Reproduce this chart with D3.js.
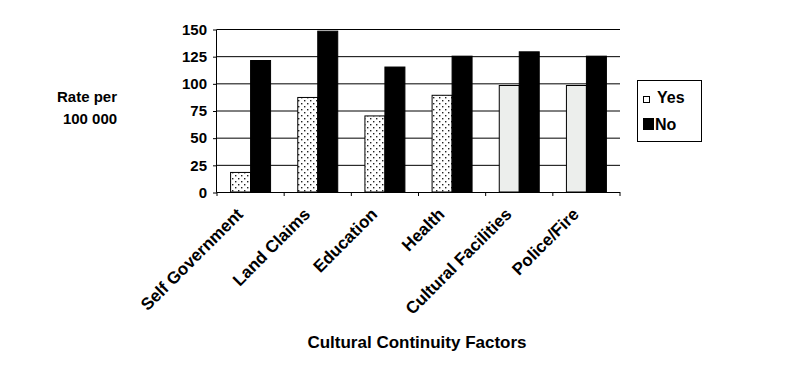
<!DOCTYPE html>
<html><head><meta charset="utf-8">
<script src="https://cdn.jsdelivr.net/npm/d3@7"></script>
<style>body{margin:0;background:#fff}svg{display:block}text{font-family:"Liberation Sans",Arial,sans-serif;font-weight:bold;fill:#000}</style>
</head><body><svg id="c" width="786" height="371"></svg>
<script>
const categories = ["Self Government","Land Claims","Education","Health","Cultural Facilities","Police/Fire"];
const yesValues = [18, 87, 70, 89, 98, 98];
const noValues = [121, 148, 115, 125, 129, 125];
const yesFills = ["dots","dots","dots","dots","grey","grey"];
const yTicks = [0,25,50,75,100,125,150];
const seriesNames = ["Yes","No"];

const svg = d3.select("#c");
const defs = svg.append("defs");
const pat = defs.append("pattern").attr("id","dots").attr("patternUnits","userSpaceOnUse").attr("width",6).attr("height",6);
pat.append("rect").attr("width",6).attr("height",6).attr("fill","#fff");
pat.append("rect").attr("x",1).attr("y",1).attr("width",1.4).attr("height",1.4).attr("fill","#222");
pat.append("rect").attr("x",4).attr("y",4).attr("width",1.4).attr("height",1.4).attr("fill","#222");

const L = 217, R = 620, T = 29, B = 192;
const x = d3.scaleBand().domain(categories).range([L,R]).paddingInner(0).paddingOuter(0);
const xs = d3.scaleBand().domain(seriesNames).range([0,x.bandwidth()]).paddingInner(0).paddingOuter(0.68);
const y = d3.scaleLinear().domain([0,150]).range([B,T]);

// gridlines
svg.append("g").selectAll("line").data(yTicks.filter(d=>d>0)).join("line")
  .attr("x1",L).attr("x2",R).attr("y1",d=>y(d)+0.5).attr("y2",d=>y(d)+0.5)
  .attr("stroke","#000").attr("stroke-width",1);

// bars
const g = svg.append("g");
categories.forEach((c,i)=>{
  g.append("rect").attr("x",x(c)+xs("Yes")).attr("width",xs.bandwidth())
    .attr("y",y(yesValues[i])).attr("height",B-y(yesValues[i]))
    .attr("fill",yesFills[i]==="dots"?"url(#dots)":"#eceeec").attr("stroke","#000").attr("stroke-width",1);
  g.append("rect").attr("x",x(c)+xs("No")).attr("width",xs.bandwidth())
    .attr("y",y(noValues[i])).attr("height",B-y(noValues[i]))
    .attr("fill","#000").attr("stroke","#000").attr("stroke-width",1);
});

// y axis
const ya = d3.axisLeft(y).tickValues(yTicks).tickSize(4).tickPadding(6);
const yg = svg.append("g").attr("transform",`translate(${L},0.5)`).call(ya);
yg.select(".domain").attr("stroke","#000").attr("d",`M-0.5,${T}V${B}`);
yg.selectAll("text").style("font-size","15px").style("font-family","Liberation Sans, Arial").style("font-weight","bold").attr("fill","#000");

// x axis
const xa = d3.axisBottom(x).tickSize(0).tickFormat("");
const xg = svg.append("g").attr("transform",`translate(0,${B})`).call(xa);
xg.select(".domain").attr("stroke","#000").attr("d",`M${L},0.5H${R}`);
svg.append("g").selectAll("line").data(d3.range(categories.length+1)).join("line")
  .attr("x1",i=>L+i*x.bandwidth()).attr("x2",i=>L+i*x.bandwidth())
  .attr("y1",B).attr("y2",B+4).attr("stroke","#000");

svg.append("g").selectAll("text").data(categories).join("text")
  .attr("transform",d=>`translate(${x(d)+x.bandwidth()/2-15},${B+15}) rotate(-45)`)
  .attr("text-anchor","end").attr("dy","0.7em").style("font-size","17px").text(d=>d);

// titles
svg.append("text").attr("x",87).attr("y",102).attr("text-anchor","middle").style("font-size","15px").text("Rate per");
svg.append("text").attr("x",90).attr("y",124).attr("text-anchor","middle").style("font-size","15px").text("100 000");
svg.append("text").attr("x",417).attr("y",348).attr("text-anchor","middle").style("font-size","17px").text("Cultural Continuity Factors");

// legend
const lg = svg.append("g");
lg.append("rect").attr("x",637.5).attr("y",80.5).attr("width",64).attr("height",61).attr("fill","#fff").attr("stroke","#000");
lg.append("rect").attr("x",643.5).attr("y",96.5).attr("width",6).attr("height",6).attr("fill","#fff").attr("stroke","#000");
lg.append("rect").attr("x",643).attr("y",118).attr("width",11).attr("height",12).attr("fill","#000");
lg.append("text").attr("x",657).attr("y",103).style("font-size","16px").text(seriesNames[0]);
lg.append("text").attr("x",655).attr("y",130).style("font-size","16px").text(seriesNames[1]);
</script></body></html>
